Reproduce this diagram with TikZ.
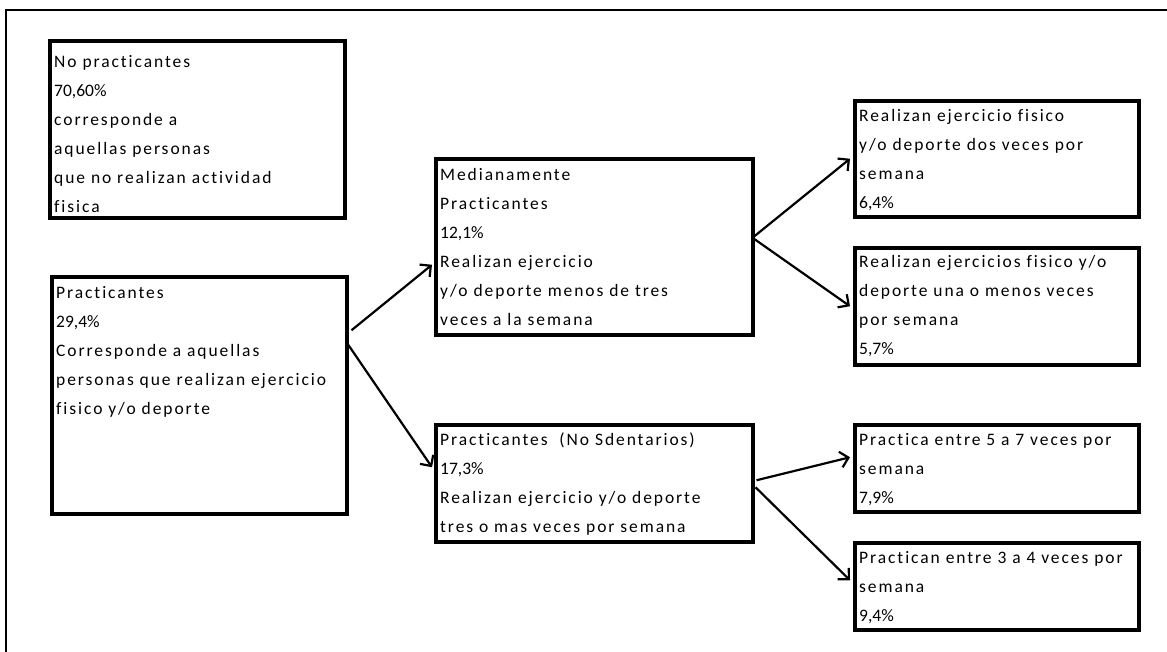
\documentclass[tikz,border=0pt]{standalone}
\usepackage{fontspec}
\setmainfont{Carlito}[LetterSpace=11,Ligatures=NoCommon]
\newfontfamily\numfont{Carlito}
\usetikzlibrary{arrows.meta}
\tikzset{
  boxst/.style={draw=black, line width=3.5pt, rectangle, inner sep=0pt, anchor=north west},
  txt/.style={anchor=north west, inner sep=0pt, align=left, font=\fontsize{17.5pt}{29pt}\selectfont},
  arr/.style={line width=2.2pt, -{Straight Barb[length=8pt,width=16pt]}},
}
\newcommand{\fl}{\rule{0pt}{13pt}}
\newcommand{\nm}[1]{{\numfont #1}}
\begin{document}
\begin{tikzpicture}[x=1pt,y=-1pt]
\useasboundingbox (0,0) rectangle (1167,651);
\clip (0,0) rectangle (1167,651);
\draw[line width=2.5pt] (6,10) rectangle (1180,670);
% boxes
\node[boxst, minimum width=295pt, minimum height=177pt] (b1) at (48,39) {};
\node[boxst, minimum width=295pt, minimum height=237pt] (b2) at (50,275) {};
\node[boxst, minimum width=317pt, minimum height=176pt] (b3) at (434,157) {};
\node[boxst, minimum width=317pt, minimum height=117pt] (b4) at (434,423) {};
\node[boxst, minimum width=284pt, minimum height=116pt] (b5) at (853,99) {};
\node[boxst, minimum width=284pt, minimum height=117pt] (b6) at (853,246) {};
\node[boxst, minimum width=284pt, minimum height=87pt] (b7) at (853,423) {};
\node[boxst, minimum width=284pt, minimum height=87pt] (b8) at (853,541) {};
% texts
\node[txt] (t1) at (54,54) {\fl No practicantes\\\nm{70,60\%}\\corresponde a\\aquellas personas\\que no realizan actividad\\fisica};
\node[txt] (t2) at (56,285) {\fl Practicantes\\\nm{29,4\%}\\Corresponde a aquellas\\personas que realizan ejercicio\\fisico y/o deporte};
\node[txt] (t3) at (440,167) {\fl Medianamente\\Practicantes\\\nm{12,1\%}\\Realizan ejercicio\\y/o deporte menos de tres\\veces a la semana};
\node[txt] (t4) at (440,432) {\fl Practicantes\ \ (No Sdentarios)\\\nm{17,3\%}\\Realizan ejercicio y/o deporte\\tres o mas veces por semana};
\node[txt] (t5) at (859,108) {\fl Realizan ejercicio fisico\\y/o deporte dos veces por\\semana\\\nm{6,4\%}};
\node[txt] (t6) at (859,254) {\fl Realizan ejercicios fisico y/o\\deporte una o menos veces\\por semana\\\nm{5,7\%}};
\node[txt] (t7) at (859,432) {\fl Practica entre 5 a 7 veces por\\semana\\\nm{7,9\%}};
\node[txt] (t8) at (859,550) {\fl Practican entre 3 a 4 veces por\\semana\\\nm{9,4\%}};
% arrows
\draw[arr] ([xshift=3pt,yshift=65pt]b2.east) -- ([xshift=-2pt,yshift=-18pt]b3.west);
\draw[arr] ([xshift=-2pt,yshift=53pt]b2.east) -- ([xshift=-2pt,yshift=16pt]b4.west);
\draw[arr] ([xshift=-2pt,yshift=9pt]b3.east) -- ([xshift=-3pt]b5.west);
\draw[arr] ([xshift=-2pt,yshift=9pt]b3.east) -- ([xshift=-3pt]b6.west);
\draw[arr] ([xshift=2pt,yshift=3pt]b4.east) -- ([xshift=-3pt,yshift=11pt]b7.west);
\draw[arr] ([xshift=1pt,yshift=-4pt]b4.east) -- ([xshift=-3pt,yshift=6pt]b8.west);
\end{tikzpicture}
\end{document}
